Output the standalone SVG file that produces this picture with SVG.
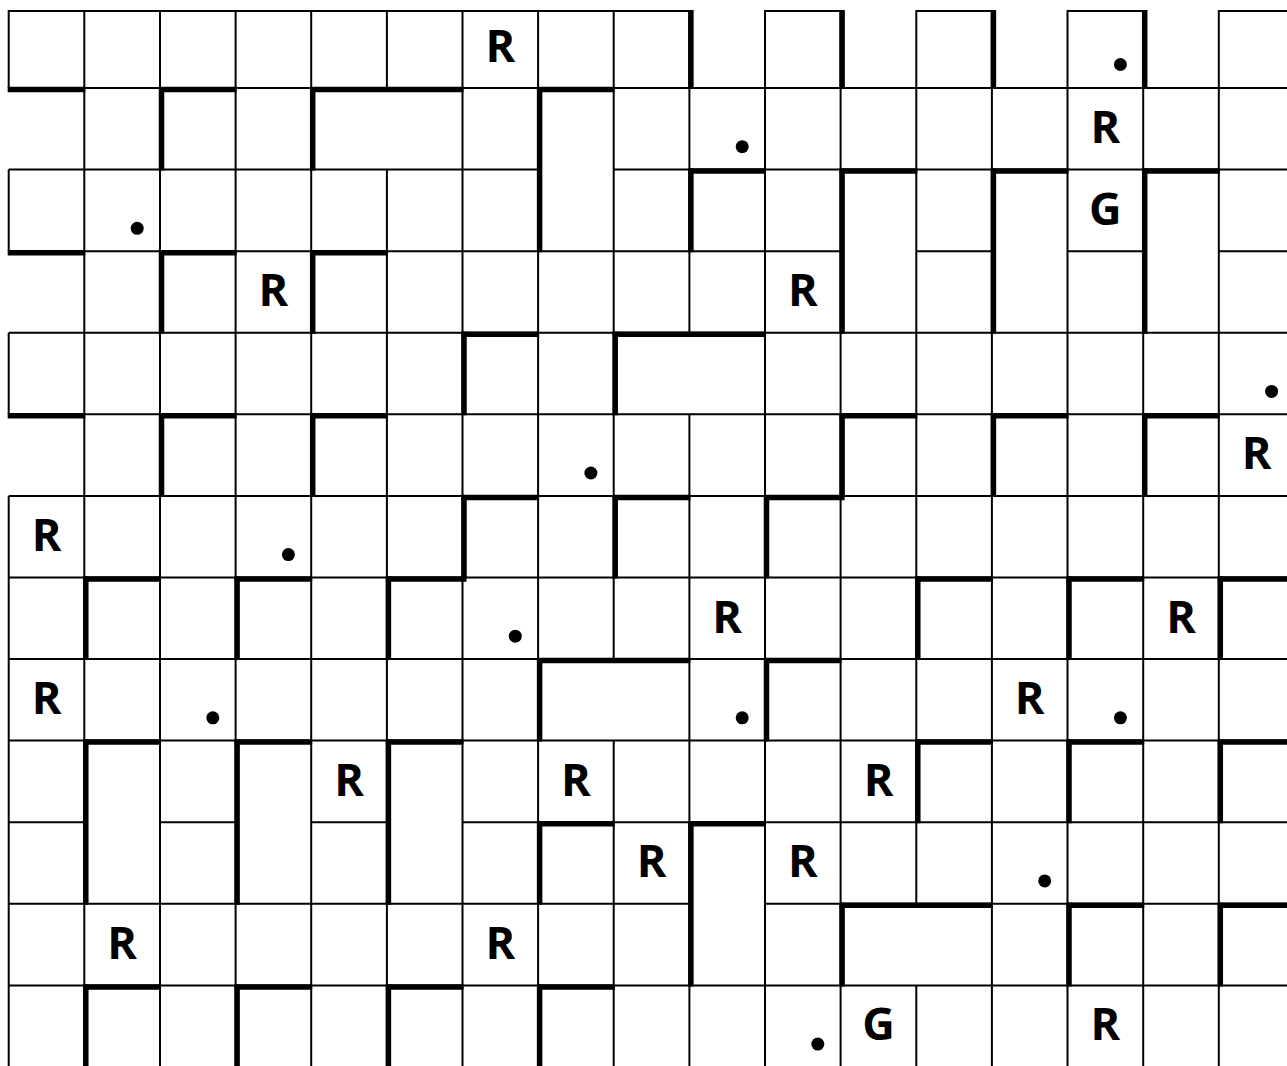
<svg xmlns="http://www.w3.org/2000/svg" width="1287" height="1066" viewBox="0 0 1287 1066">
<style>
.thin{fill:none;stroke:#000;stroke-width:2;stroke-linecap:butt}
.thick{fill:none;stroke:#000;stroke-width:5.5;stroke-linecap:butt}
.lbl{font-family:"Open Sans","Liberation Sans",sans-serif;font-weight:700;font-size:45px;text-anchor:middle;fill:#000}
.dot{fill:#000}
</style>
<rect x="0" y="0" width="1287" height="1066" fill="#fff"/>
<g id="grid-thin">
<path class="thin" d="M8.7 11H689.4M765 11H840.6M916.3 11H991.9M1067.5 11H1143.2M1218.8 11H1287
M8.7 88H1287
M8.7 169.6H538.1M613.7 169.6H1287
M8.7 251.2H840.6M916.3 251.2H991.9M1067.5 251.2H1143.2M1218.8 251.2H1287
M8.7 332.7H1287
M8.7 414.3H1287
M8.7 495.9H1287
M8.7 577.5H1287
M8.7 659.1H1287
M8.7 740.6H1287
M8.7 822.2H84.3M160 822.2H235.6M311.2 822.2H386.9M462.5 822.2H1287
M8.7 903.8H689.4M765 903.8H1287
M8.7 985.4H1287"/>
<path class="thin" d="M8.7 10V88M8.7 169.6V251.2M8.7 332.7V414.3M8.7 495.9V1067
M84.3 10V1067M160 10V1067M235.6 10V1067M311.2 10V1067
M386.9 10V88M386.9 169.6V1067
M462.5 10V1067M538.1 10V1067
M613.7 10V659.1M613.7 740.6V1067
M689.4 10V332.7M689.4 414.3V1067
M765 10V1067M840.6 10V1067
M916.3 10V903.8M916.3 985.4V1067
M991.9 10V1067M1067.5 10V1067M1143.2 10V1067M1218.8 10V1067"/>
</g>
<g id="walls">
<path class="thick" d="M7.7 89.5H85.3M159 89.5H236.6M310.2 89.5H463.5M537.1 89.5H614.7
M688.4 171.1H766M839.6 171.1H917.3M990.9 171.1H1068.5M1142.2 171.1H1219.8
M7.7 252.7H85.3M159 252.7H236.6M310.2 252.7H387.9
M461.5 334.2H539.1M612.7 334.2H766
M7.7 415.8H85.3M159 415.8H236.6M310.2 415.8H387.9M839.6 415.8H917.3M990.9 415.8H1068.5M1142.2 415.8H1219.8
M461.5 497.4H539.1M612.7 497.4H690.4M764 497.4H844.6
M83.3 579H161M234.6 579H312.2M385.9 579H466.5M915.3 579H992.9M1066.5 579H1144.2M1217.8 579H1287
M537.1 660.6H690.4M764 660.6H841.6
M83.3 742.1H161M234.6 742.1H312.2M385.9 742.1H463.5M915.3 742.1H992.9M1066.5 742.1H1144.2M1217.8 742.1H1287
M537.1 823.7H614.7M688.4 823.7H766
M839.6 905.3H992.9M1066.5 905.3H1144.2M1217.8 905.3H1287
M83.3 986.9H161M234.6 986.9H312.2M385.9 986.9H463.5M537.1 986.9H614.7"/>
<path class="thick" d="M690.9 10V89M690.9 168.6V252.2M690.9 821.2V986.4
M842.1 10V89M842.1 168.6V333.7M842.1 413.3V496.9M842.1 902.8V986.4
M993.4 10V89M993.4 168.6V333.7M993.4 413.3V496.9
M1144.7 10V89M1144.7 168.6V333.7M1144.7 413.3V496.9
M161.5 87V170.6M161.5 250.2V333.7M161.5 413.3V496.9
M312.7 87V170.6M312.7 250.2V333.7M312.7 413.3V496.9
M539.6 87V252.2M539.6 658.1V741.6M539.6 821.2V904.8M539.6 984.4V1067
M464 331.7V415.3M464 494.9V578.5
M615.2 331.7V415.3M615.2 494.9V578.5
M766.5 494.9V578.5M766.5 658.1V741.6
M85.8 576.5V660.1M85.8 739.6V904.8M85.8 984.4V1067
M237.1 576.5V660.1M237.1 739.6V904.8M237.1 984.4V1067
M388.4 576.5V660.1M388.4 739.6V904.8M388.4 984.4V1067
M917.8 576.5V660.1M917.8 739.6V823.2
M1069 576.5V660.1M1069 739.6V823.2M1069 902.8V986.4
M1220.3 576.5V660.1M1220.3 739.6V823.2M1220.3 902.8V986.4"/>
</g>
<g id="letters">
<text class="lbl" x="500.3" y="62">R</text>
<text class="lbl" x="1105.4" y="143">R</text>
<text class="lbl" x="1105.4" y="224.6">G</text>
<text class="lbl" x="273.4" y="306.2">R</text>
<text class="lbl" x="802.8" y="306.2">R</text>
<text class="lbl" x="1256.6" y="469.3">R</text>
<text class="lbl" x="46.5" y="550.9">R</text>
<text class="lbl" x="727.2" y="632.5">R</text>
<text class="lbl" x="1181" y="632.5">R</text>
<text class="lbl" x="46.5" y="714.1">R</text>
<text class="lbl" x="1029.7" y="714.1">R</text>
<text class="lbl" x="349.1" y="795.7">R</text>
<text class="lbl" x="575.9" y="795.7">R</text>
<text class="lbl" x="878.5" y="795.7">R</text>
<text class="lbl" x="651.6" y="877.2">R</text>
<text class="lbl" x="802.8" y="877.2">R</text>
<text class="lbl" x="122.2" y="958.8">R</text>
<text class="lbl" x="500.3" y="958.8">R</text>
<text class="lbl" x="878.5" y="1040.4">G</text>
<text class="lbl" x="1105.4" y="1040.4">R</text>
</g>
<g id="dots">
<circle class="dot" cx="1120.4" cy="64.5" r="6.5"/>
<circle class="dot" cx="742.2" cy="146.7" r="6.5"/>
<circle class="dot" cx="137.2" cy="228.3" r="6.5"/>
<circle class="dot" cx="1271.6" cy="391.4" r="6.5"/>
<circle class="dot" cx="590.9" cy="473" r="6.5"/>
<circle class="dot" cx="288.4" cy="554.6" r="6.5"/>
<circle class="dot" cx="515.3" cy="636.2" r="6.5"/>
<circle class="dot" cx="212.8" cy="717.8" r="6.5"/>
<circle class="dot" cx="742.2" cy="717.8" r="6.5"/>
<circle class="dot" cx="1120.4" cy="717.8" r="6.5"/>
<circle class="dot" cx="1044.7" cy="880.9" r="6.5"/>
<circle class="dot" cx="817.8" cy="1044.1" r="6.5"/>
</g>
</svg>
